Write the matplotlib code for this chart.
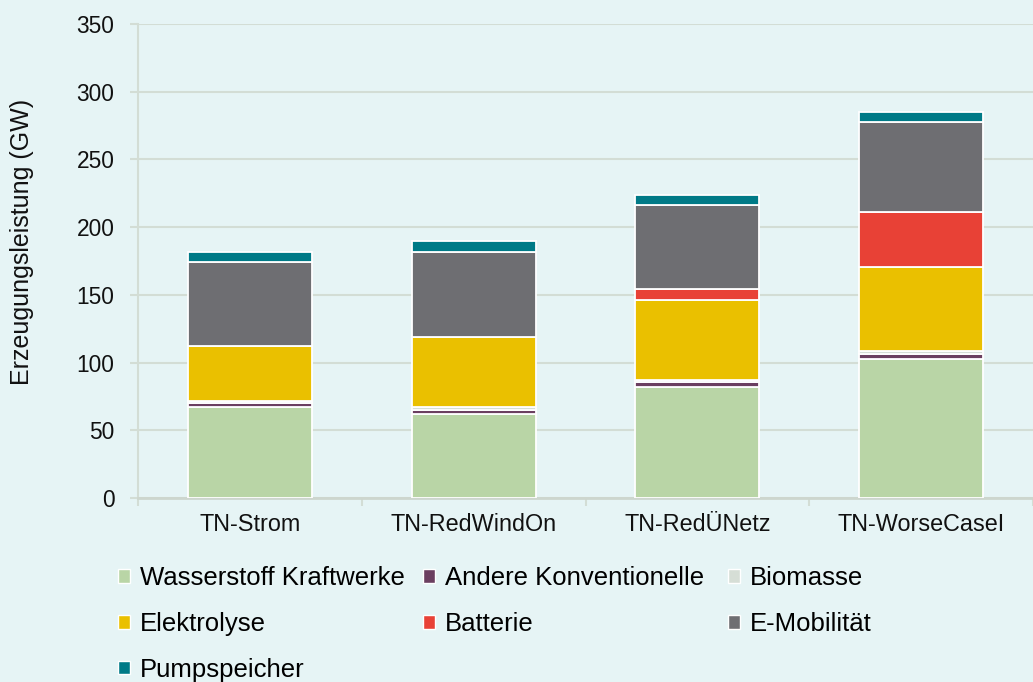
import matplotlib.pyplot as plt
import numpy as np

plt.rcParams["font.family"] = ["Liberation Sans", "DejaVu Sans"]

scenarios = ["TN-Strom", "TN-RedWindOn", "TN-RedÜNetz", "TN-WorseCaseI"]
wasserstoff = [67, 62, 82, 103]
andere_konv = [3, 3, 3.5, 3.5]
biomasse = [1.5, 2, 1.5, 2]
elektrolyse = [41, 52, 59.5, 62]
batterie = [0, 0, 7.5, 40.5]
e_mobilitaet = [62, 63, 62, 66.5]
pumpspeicher = [7.5, 7.5, 7.5, 7.5]

series = [
    ("Wasserstoff Kraftwerke", wasserstoff, "#B9D5A6"),
    ("Andere Konventionelle", andere_konv, "#6B3F60"),
    ("Biomasse", biomasse, "#D6DED6"),
    ("Elektrolyse", elektrolyse, "#EAC000"),
    ("Batterie", batterie, "#E84136"),
    ("E-Mobilität", e_mobilitaet, "#6E6E72"),
    ("Pumpspeicher", pumpspeicher, "#007A87"),
]

BG = "#E6F4F5"
GRID = "#D3DDD5"

fig = plt.figure(figsize=(10.33, 6.82), dpi=100, facecolor=BG)
ax = fig.add_axes([138 / 1033, 1 - 498 / 682, 1 - 138 / 1033, (498 - 24) / 682])
ax.set_facecolor(BG)

x = np.arange(len(scenarios))
bottom = np.zeros(len(scenarios))
handles = {}
for name, vals, color in series:
    vals = np.array(vals, dtype=float)
    bars = ax.bar(x, vals, 0.555, bottom=bottom, color=color,
                  edgecolor="white", linewidth=1.3, label=name, zorder=3)
    handles[name] = bars
    bottom += vals

ax.set_xlim(-0.5, 3.5)
ax.set_ylim(0, 350)
ax.set_yticks(range(0, 351, 50))
ax.set_xticks(x)
ax.set_xticklabels(scenarios)
ax.set_xticks(np.arange(-0.5, 3.6, 1), minor=True)
ax.grid(axis="y", color=GRID, linewidth=1.5, zorder=0)
ax.set_axisbelow(True)

for side in ["top", "right"]:
    ax.spines[side].set_visible(False)
ax.spines["left"].set_color(GRID)
ax.spines["left"].set_linewidth(1.5)
ax.spines["bottom"].set_color("#CDD6CE")
ax.spines["bottom"].set_linewidth(2)

ax.tick_params(axis="y", length=6, width=1.5, color=GRID, pad=11,
               labelsize=16.4, labelcolor="#111111")
ax.tick_params(axis="x", which="major", length=0, pad=11,
               labelsize=16.8, labelcolor="#111111")
ax.tick_params(axis="x", which="minor", length=6, width=1.5, color=GRID)

ax.set_ylabel("Erzeugungsleistung (GW)", fontsize=18, color="#111111")
ax.yaxis.label.set_va("center")
ax.yaxis.set_label_coords(-0.13, 0.54)

# legend laid out row by row in three evenly spaced columns
columns = [
    (["Wasserstoff Kraftwerke", "Elektrolyse", "Pumpspeicher"], 118),
    (["Andere Konventionelle", "Batterie"], 423),
    (["Biomasse", "E-Mobilität"], 728),
]
for names, xpix in columns:
    leg = fig.legend([handles[n] for n in names], names,
                     loc="upper left", bbox_to_anchor=(xpix / 1033, 1 - 566 / 682),
                     frameon=False, fontsize=18.5, borderpad=0, borderaxespad=0,
                     handlelength=0.45, handleheight=0.45, handletextpad=0.4,
                     labelspacing=0.85)
    for patch in leg.get_patches():
        patch.set_edgecolor("white")
        patch.set_linewidth(1.0)

fig.savefig("out.png", dpi=100, facecolor=BG)
